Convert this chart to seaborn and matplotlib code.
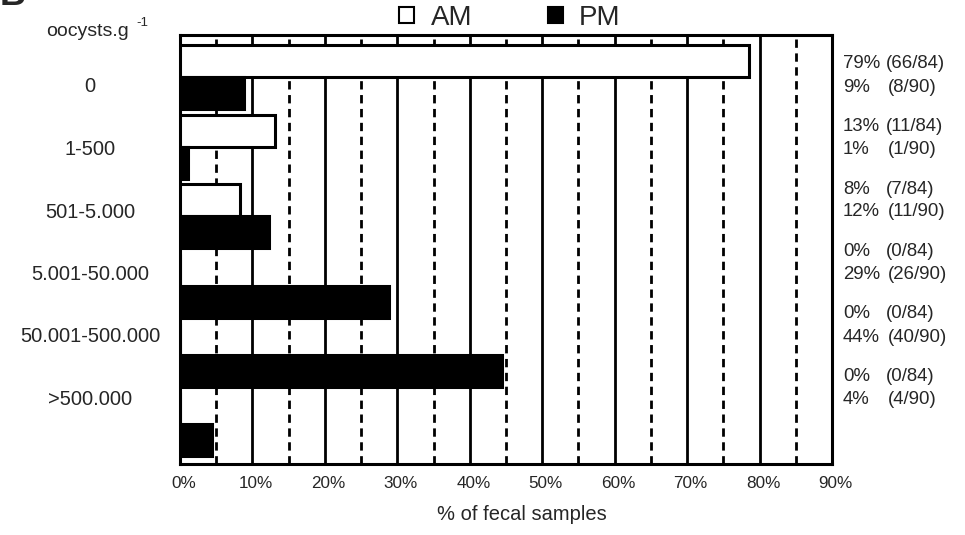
import numpy as np
import pandas as pd
import seaborn as sns
import matplotlib
matplotlib.use('Agg')
import matplotlib.pyplot as plt
import matplotlib.transforms as mtransforms
from matplotlib.patches import Patch

# oocyst load classes and sample counts (AM: n=84, PM: n=90)
categories = ['0', '1-500', '501-5.000', '5.001-50.000', '50.001-500.000', '>500.000']
am_counts = [66, 11, 7, 0, 0, 0]
pm_counts = [8, 1, 11, 26, 40, 4]
am_n = 84
pm_n = 90
xticks = [0, 10, 20, 30, 40, 50, 60, 70, 80, 90]

am_pct = [c / am_n * 100 for c in am_counts]
pm_pct = [c / pm_n * 100 for c in pm_counts]

df = pd.DataFrame({
    'cat': categories * 2,
    'session': ['AM'] * len(categories) + ['PM'] * len(categories),
    'pct': am_pct + pm_pct,
})

sns.set_style('white')
plt.rcParams['font.family'] = ['Liberation Sans', 'DejaVu Sans']

fig = plt.figure(figsize=(9.65, 5.35), dpi=100)
ax = fig.add_axes([180 / 965, 1 - 464 / 535, 652 / 965, 429 / 535])

sns.barplot(data=df, y='cat', x='pct', hue='session', order=categories,
            palette={'AM': 'white', 'PM': 'black'}, edgecolor='black',
            linewidth=2.2, width=0.92, gap=0, legend=False, ax=ax, zorder=3)

ax.set_xlim(0, 90)
ax.set_ylim(5.57, -0.61)
ax.set_xticks(xticks)
ax.set_xticklabels([f'{t}%' for t in xticks], fontsize=12.3)
ax.set_xticks(np.arange(5, 90, 10), minor=True)
ax.tick_params(axis='x', which='both', length=0, pad=9)
# labels sit a few px right of the gridlines in the original
shift = mtransforms.ScaledTranslation(3.5 / 100, 0, fig.dpi_scale_trans)
for lbl in ax.get_xticklabels():
    lbl.set_transform(lbl.get_transform() + shift)
ax.set_yticks([])
ax.set_ylabel('')
ax.set_xlabel('% of fecal samples', fontsize=14.5)
ax.xaxis.set_label_coords(0.525, -0.095)
ax.set_axisbelow(True)
ax.grid(axis='x', which='major', color='black', lw=2)
ax.grid(axis='x', which='minor', color='black', lw=2, ls=(0, (3, 2)))
for s in ax.spines.values():
    s.set_color('black')
    s.set_linewidth(2.2)

# row labels and counts (text column independent of bar positions)
pitch = 62.5
for i, cat in enumerate(categories):
    y_am = 1 - (64 + pitch * i - 35) / 429
    y_pm = 1 - (87 + pitch * i - 35) / 429
    ax.text(-0.138, y_pm, cat, transform=ax.transAxes, ha='center', va='center', fontsize=14.5)
    ax.text(1.017, y_am, f'{round(am_pct[i])}%', transform=ax.transAxes, va='center', fontsize=13.4)
    ax.text(1.083, y_am, f'({am_counts[i]}/{am_n})', transform=ax.transAxes, va='center', fontsize=13.4)
    ax.text(1.017, y_pm, f'{round(pm_pct[i])}%', transform=ax.transAxes, va='center', fontsize=13.4)
    ax.text(1.086, y_pm, f'({pm_counts[i]}/{pm_n})', transform=ax.transAxes, va='center', fontsize=13.4)

fig.text(46 / 965, 1 - 36 / 535, 'oocysts.g', fontsize=14, va='baseline')
fig.text(136 / 965, 1 - 26 / 535, '-1', fontsize=9.5, va='baseline')
fig.text(0.0, 1 - 5 / 535, 'B', fontsize=26, fontweight='bold', va='baseline')

handles = [Patch(facecolor='white', edgecolor='black', lw=1.5, label='AM'),
           Patch(facecolor='black', edgecolor='black', lw=1.5, label='PM')]
fig.legend(handles=handles, loc='center', bbox_to_anchor=(0.5285, 0.967), ncol=2,
           frameon=False, fontsize=20, handlelength=0.54, handleheight=0.54,
           handletextpad=0.6, columnspacing=2.7, borderpad=0)

fig.savefig('out.png', dpi=100)
